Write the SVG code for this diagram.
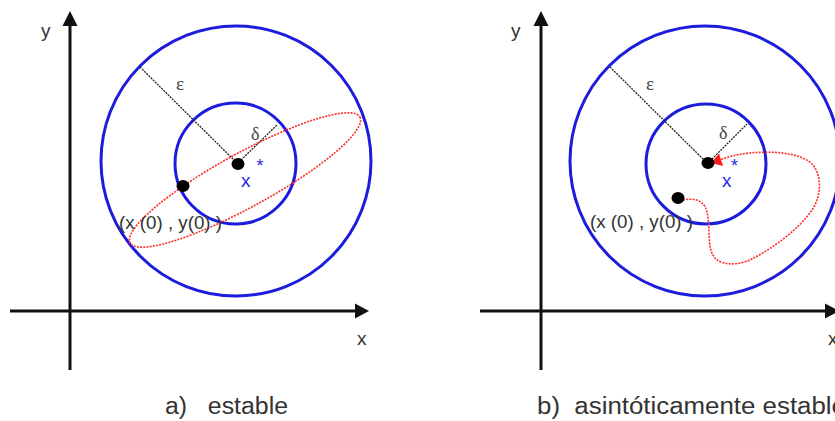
<svg xmlns="http://www.w3.org/2000/svg" width="835" height="421" viewBox="0 0 835 421">
<style>
.axis{stroke:#111;stroke-width:3;fill:none}
.head{fill:#111}
.circ{stroke:#1c1cdc;stroke-width:3;fill:none}
.rad{stroke:#222;stroke-width:1.3;stroke-dasharray:2 1;fill:none}
.traj{stroke:#ff2a2a;stroke-width:1.6;stroke-dasharray:2 1.2;fill:none}
.dot{fill:#000}
.lbl{font-family:"Liberation Sans",Arial,sans-serif;fill:#333}
.blue{font-family:"Liberation Sans",Arial,sans-serif;fill:#2a2ae6}
.greek{font-family:"Liberation Serif","DejaVu Serif",serif;fill:#444}
</style>
<rect width="835" height="421" fill="#fff"/>

<g id="panel-a">
  <g id="axes-a">
    <line class="axis" x1="70" y1="370" x2="70" y2="24"/>
    <polygon class="head" points="70,11 62.5,26 77.5,26"/>
    <line class="axis" x1="10" y1="311" x2="356" y2="311"/>
    <polygon class="head" points="369,311 355,303.5 355,318.5"/>
    <text class="lbl" x="41" y="37" font-size="19">y</text>
    <text class="lbl" x="357" y="345" font-size="19">x</text>
  </g>
  <g id="outer-circle-a"><circle class="circ" cx="236" cy="161" r="135"/></g>
  <g id="inner-circle-a"><circle class="circ" cx="235.5" cy="163.5" r="60.5"/></g>
  <g id="radii-a">
    <line class="rad" x1="140" y1="67" x2="236" y2="162"/>
    <line class="rad" x1="241" y1="160" x2="277" y2="125"/>
    <text class="greek" x="176" y="90" font-size="19">ε</text>
    <text class="greek" x="251" y="140" font-size="18">δ</text>
  </g>
  <g id="trajectory-a"><ellipse class="traj" cx="245" cy="180" rx="131" ry="27" transform="rotate(-28.7 245 180)"/></g>
  <g id="equilibrium-a">
    <ellipse class="dot" cx="238" cy="164" rx="6.5" ry="6"/>
    <text class="blue" x="241" y="187" font-size="19">x</text>
    <text class="blue" x="256.5" y="172" font-size="18">*</text>
  </g>
  <g id="initial-a">
    <ellipse class="dot" cx="183" cy="186" rx="6.5" ry="6"/>
    <text class="lbl" x="119" y="229" font-size="18" textLength="103" lengthAdjust="spacingAndGlyphs">(x (0) , y(0) )</text>
  </g>
  <text class="lbl" x="165" y="414" font-size="23" textLength="123" lengthAdjust="spacingAndGlyphs" xml:space="preserve">a)   estable</text>
</g>

<g id="panel-b">
  <g id="axes-b">
    <line class="axis" x1="541" y1="370" x2="541" y2="24"/>
    <polygon class="head" points="541,11 533.5,26 548.5,26"/>
    <line class="axis" x1="480" y1="311" x2="826" y2="311"/>
    <polygon class="head" points="839,311 825,303.5 825,318.5"/>
    <text class="lbl" x="511" y="37" font-size="19">y</text>
    <text class="lbl" x="828" y="345" font-size="19">x</text>
  </g>
  <g id="outer-circle-b"><circle class="circ" cx="705" cy="161" r="135"/></g>
  <g id="inner-circle-b"><circle class="circ" cx="706" cy="164" r="60"/></g>
  <g id="radii-b">
    <line class="rad" x1="610" y1="67" x2="706" y2="162"/>
    <line class="rad" x1="712" y1="159" x2="747" y2="124"/>
    <text class="greek" x="646" y="90" font-size="19">ε</text>
    <text class="greek" x="719" y="139" font-size="18">δ</text>
  </g>
  <g id="trajectory-b">
    <path class="traj" d="M683,200 C693,198 704,199 707,212 C711,228 706,250 716,259 C724,266 740,265 752,259 C775,247 800,228 812,210 C822,195 822,175 812,164 C800,152 770,151 750,153 C738,154 728,157 719,160"/>
    <polygon points="711,163 719,153.5 723,166" fill="#ff1a1a"/>
  </g>
  <g id="equilibrium-b">
    <ellipse class="dot" cx="708" cy="163" rx="6.5" ry="6"/>
    <text class="blue" x="722" y="187" font-size="19">x</text>
    <text class="blue" x="731" y="172" font-size="18">*</text>
  </g>
  <g id="initial-b">
    <ellipse class="dot" cx="678" cy="198" rx="6.5" ry="6"/>
    <text class="lbl" x="590" y="228" font-size="18" textLength="103" lengthAdjust="spacingAndGlyphs">(x (0) , y(0) )</text>
  </g>
  <text class="lbl" x="537" y="414" font-size="23" textLength="309" lengthAdjust="spacingAndGlyphs" xml:space="preserve">b)  asintóticamente estable</text>
</g>
</svg>
